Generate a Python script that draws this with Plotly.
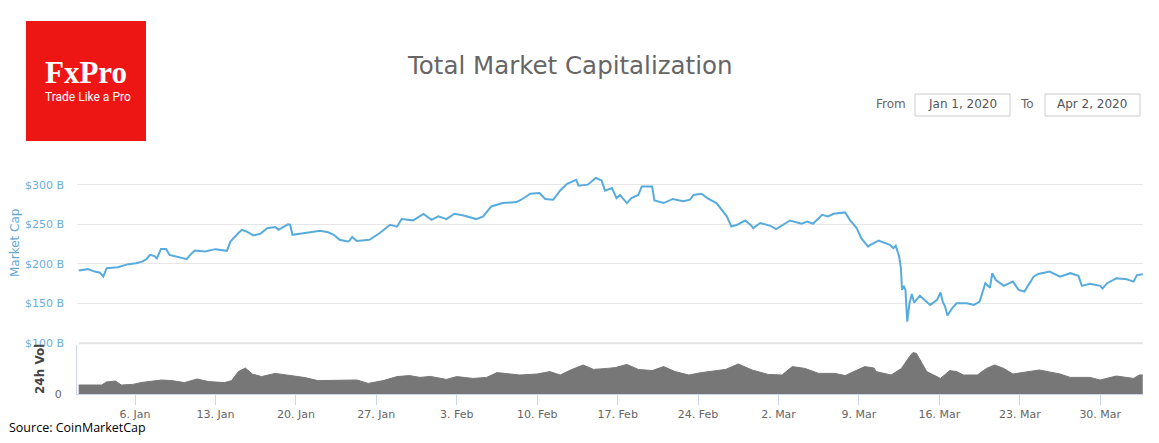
import pandas as pd
import plotly.graph_objects as go

# ---------------- data ----------------
START = "2020-01-01"
mc_days = [0.1, 0.9, 1.5, 1.95, 2.24, 2.53, 3.5, 4.4, 5.1, 5.6, 6.0, 6.3, 6.7, 6.9, 7.26, 7.7, 8.0,
           8.8, 9.5, 9.8, 10.2, 11.1, 12.0, 13.0, 13.3, 14.0, 14.3, 14.7, 15.3, 15.9, 16.5, 17.2,
           17.5, 18.3, 18.5, 18.7, 19.5, 20.1, 21.1, 21.8, 22.3, 22.8, 23.3, 23.6, 23.9, 24.3,
           25.4, 26.3, 27.2, 27.8, 28.2, 29.2, 30.1, 30.8, 31.4, 32.1, 32.8, 33.6, 34.7, 35.3,
           36.0, 37.0, 38.2, 38.6, 39.4, 40.2, 40.7, 41.4, 42.0, 42.6, 43.4, 43.6, 44.4, 45.1,
           45.6, 45.9, 46.5, 46.9, 47.2, 47.8, 48.2, 48.8, 49.1, 50.0, 50.2, 51.0, 51.8, 52.7,
           53.3, 53.6, 54.3, 54.8, 55.6, 56.1, 56.5, 56.9, 57.4, 58.1, 58.6, 58.8, 59.4, 60.3,
           60.8, 62.0, 63.0, 63.5, 64.0, 64.8, 65.3, 65.8, 66.8, 67.2, 67.8, 68.2, 68.8, 69.0,
           69.7, 70.7, 71.0, 71.2, 71.5, 71.65, 71.75, 71.9, 72.05, 72.2, 72.4, 72.6, 72.8, 73.3,
           73.7, 74.2, 74.8, 75.1, 75.3, 75.5, 75.7, 76.1, 76.5, 77.4, 78.0, 78.5, 79.0, 79.4,
           79.6, 79.9, 80.6, 81.4, 81.9, 82.4, 83.2, 83.6, 84.6, 85.5, 86.4, 87.1, 87.4, 88.1,
           89.0, 89.2, 89.6, 90.4, 91.3, 91.9, 92.2, 92.7]
market_cap_b = [191.7, 193.5, 190.4, 189.0, 184.0, 194.7, 196.0, 199.8, 201.0, 203.0, 206.0, 211.5,
                210.0, 207.0, 219.0, 219.0, 211.5, 208.6, 206.0, 211.5, 217.0, 215.7, 218.7, 216.6,
                228.3, 239.0, 243.0, 241.0, 236.0, 238.0, 245.0, 246.5, 243.0, 250.0, 249.5, 236.8,
                239.0, 239.7, 241.8, 240.0, 236.8, 230.5, 229.0, 228.3, 234.0, 229.0, 230.5, 239.0,
                249.4, 247.0, 256.6, 255.0, 263.0, 255.7, 260.0, 256.6, 263.3, 261.0, 256.6, 260.0,
                272.5, 276.8, 278.0, 281.0, 288.6, 289.4, 282.0, 281.0, 292.7, 301.0, 306.0, 298.7,
                300.0, 308.4, 305.4, 292.5, 295.8, 283.0, 287.0, 276.8, 283.0, 287.0, 297.8, 297.8,
                280.0, 276.8, 282.0, 279.0, 281.0, 287.0, 288.6, 283.0, 276.8, 267.5, 260.0, 247.3,
                249.4, 254.8, 249.0, 245.3, 251.6, 248.0, 244.0, 254.8, 250.7, 253.6, 250.7, 262.0,
                260.0, 263.3, 265.0, 255.7, 245.3, 232.6, 222.0, 224.0, 229.6, 224.0, 220.0, 223.0,
                209.4, 194.7, 167.3, 172.4, 167.0, 127.3, 150.5, 162.3, 151.3, 160.0, 154.7, 148.4,
                154.7, 164.0, 152.0, 146.2, 135.0, 144.0, 150.5, 150.5, 148.4, 152.5, 175.8, 170.0,
                188.4, 180.0, 172.4, 177.8, 167.3, 165.2, 184.0, 187.5, 190.4, 184.0, 188.4, 185.0,
                172.4, 175.0, 172.4, 169.0, 175.8, 182.0, 180.8, 177.8, 186.0, 187.0]

vol_days = [0.1, 2.1, 2.5, 3.3, 3.8, 4.8, 5.6, 7.3, 8.2, 9.3, 10.4, 11.4, 12.8, 13.4, 14.0, 14.6,
            15.2, 16.0, 17.2, 18.3, 19.8, 20.9, 22.1, 23.1, 24.3, 25.3, 26.6, 27.8, 28.9, 29.8,
            30.7, 32.1, 33.0, 34.4, 35.6, 36.5, 37.3, 38.5, 40.0, 41.1, 42.0, 42.9, 44.0, 44.9,
            46.1, 46.8, 47.8, 48.8, 50.0, 51.0, 52.0, 53.2, 54.3, 55.5, 56.4, 57.5, 58.7, 60.1,
            61.3, 62.2, 63.3, 64.5, 65.9, 66.8, 68.5, 69.3, 69.5, 70.8, 71.7, 72.4, 72.7, 73.0,
            73.3, 73.9, 75.1, 75.9, 76.5, 77.1, 78.3, 79.1, 79.8, 80.6, 81.4, 82.9, 83.7, 85.5,
            86.4, 88.1, 89.0, 90.4, 91.9, 92.4, 92.7]
volume_b = [45, 45, 60, 65, 45, 48, 58, 70, 67, 57, 75, 62, 57, 67, 112, 130, 100, 87, 103, 95, 82,
            67, 67, 70, 70, 53, 67, 87, 92, 83, 88, 73, 87, 78, 83, 107, 103, 95, 100, 112, 95, 120,
            145, 123, 128, 132, 148, 123, 117, 137, 112, 95, 107, 117, 123, 150, 120, 98, 95, 137,
            128, 103, 103, 92, 137, 130, 112, 95, 128, 187, 207, 203, 170, 112, 78, 117, 112, 95,
            95, 128, 145, 128, 100, 112, 120, 100, 83, 83, 70, 90, 78, 95, 95]

tick_dates = ["2020-01-06", "2020-01-13", "2020-01-20", "2020-01-27", "2020-02-03", "2020-02-10",
              "2020-02-17", "2020-02-24", "2020-03-02", "2020-03-09", "2020-03-16", "2020-03-23",
              "2020-03-30"]
tick_labels = ["6. Jan", "13. Jan", "20. Jan", "27. Jan", "3. Feb", "10. Feb", "17. Feb",
               "24. Feb", "2. Mar", "9. Mar", "16. Mar", "23. Mar", "30. Mar"]
cap_ticks = [100, 150, 200, 250, 300, 350]
cap_tick_labels = ["$100 B", "$150 B", "$200 B", "$250 B", "$300 B", ""]

# ---------------- derived ----------------
t0 = pd.Timestamp(START)
mc_time = t0 + pd.to_timedelta(mc_days, unit="D")
vol_time = t0 + pd.to_timedelta(vol_days, unit="D")
x_start = t0 + pd.to_timedelta(-0.05, unit="D")
x_end = t0 + pd.to_timedelta(92.72, unit="D")

# page has an 8px body margin: figure origin sits at (8, 8) of the window
OFF = 8
W, H = 1159 - 2 * OFF, 443 - 2 * OFF
PLOT_L, PLOT_R, PLOT_T, PLOT_B = 77, 1143, 145, 394   # page coordinates of the plot area
L = PLOT_L - OFF
R = (OFF + W) - PLOT_R
T = PLOT_T - OFF
B = (OFF + H) - PLOT_B
PW, PH = PLOT_R - PLOT_L, PLOT_B - PLOT_T


def px(xp):
    return (xp - PLOT_L) / PW


def py(yp):
    return (PLOT_B - yp) / PH


FONT = "DejaVu Sans"
BLUE = "#58acdd"

fig = go.Figure()
fig.add_trace(go.Scatter(x=vol_time, y=volume_b, mode="lines", line=dict(color="#777777", width=1),
                         fill="tozeroy", fillcolor="#777777", xaxis="x", yaxis="y2",
                         hoverinfo="skip", showlegend=False))
fig.add_trace(go.Scatter(x=mc_time, y=market_cap_b, mode="lines", line=dict(color=BLUE, width=2),
                         xaxis="x", yaxis="y", hoverinfo="skip", showlegend=False))

fig.update_layout(
    width=W, height=H,
    margin=dict(l=L, r=R, t=T, b=B),
    paper_bgcolor="white", plot_bgcolor="white",
    font=dict(family=FONT, size=11, color="#666666"),
    xaxis=dict(anchor="y2", range=[x_start, x_end], tickvals=pd.to_datetime(tick_dates),
               ticktext=tick_labels, showgrid=False, zeroline=False, showline=True,
               linecolor="#ccd6eb", linewidth=1, ticks="outside", ticklen=10, tickcolor="#ccd6eb",
               tickfont=dict(family=FONT, size=11, color="#666666")),
    yaxis=dict(domain=[py(343.3), 1.0], range=[100, 350], tickvals=cap_ticks,
               ticktext=cap_tick_labels, showgrid=True, gridcolor="#e6e6e6", gridwidth=1,
               zeroline=False, showline=False, ticks="", ticklabelstandoff=12,
               tickfont=dict(family=FONT, size=11, color="#6aaedb")),
    yaxis2=dict(domain=[0, py(345)], range=[0, 245], tickvals=[0], ticktext=["0"],
                showgrid=False, zeroline=False, showline=True, linecolor="#ccd6eb", linewidth=1,
                ticks="", ticklabelstandoff=12,
                tickfont=dict(family=FONT, size=11, color="#666666")),
)

shapes = [
    # thicker bottom line of the price pane
    dict(type="line", xref="paper", yref="paper", x0=px(79), x1=1, y0=py(343.3), y1=py(343.3),
         line=dict(color="#e3e3e3", width=2)),
    # logo box
    dict(type="rect", xref="paper", yref="paper", x0=px(26), x1=px(146), y0=py(141), y1=py(21),
         fillcolor="#ee1515", line=dict(width=0), layer="above"),
    # date input boxes
    dict(type="rect", xref="paper", yref="paper", x0=px(915), x1=px(1010), y0=py(116), y1=py(94),
         fillcolor="white", line=dict(color="#cccccc", width=1)),
    dict(type="rect", xref="paper", yref="paper", x0=px(1045), x1=px(1140), y0=py(116), y1=py(94),
         fillcolor="white", line=dict(color="#cccccc", width=1)),
]
fig.update_layout(shapes=shapes)

ann = [
    dict(text="Total Market Capitalization", x=px(570), y=py(65), font=dict(size=24.5, color="#666666"),
         xanchor="center", yanchor="middle"),
    dict(text="<b>FxPro</b>", x=px(43), y=py(73), font=dict(family="Liberation Serif", size=31, color="white"),
         xanchor="left", yanchor="middle"),
    dict(text="Trade Like a Pro", x=px(43), y=py(97), font=dict(family="Roboto", size=12, color="white"),
         xanchor="left", yanchor="middle"),
    dict(text="From", x=px(908), y=py(104), font=dict(size=12, color="#666666"), xanchor="right",
         yanchor="middle"),
    dict(text="Jan 1, 2020", x=px(962), y=py(104), font=dict(size=12, color="#555555"),
         xanchor="center", yanchor="middle"),
    dict(text="To", x=px(1036), y=py(104), font=dict(size=12, color="#666666"), xanchor="right",
         yanchor="middle"),
    dict(text="Apr 2, 2020", x=px(1092), y=py(104), font=dict(size=12, color="#555555"),
         xanchor="center", yanchor="middle"),
    dict(text="Market Cap", x=px(15), y=py(243), textangle=-90, font=dict(size=12, color="#5fa8d8"),
         xanchor="center", yanchor="middle"),
    dict(text="<b>24h Vol</b>", x=px(40), y=py(369), textangle=-90, font=dict(size=12, color="#444444"),
         xanchor="center", yanchor="middle"),
    dict(text="Source: CoinMarketCap", x=px(8), y=py(427.5), borderpad=0,
         font=dict(family="Open Sans", size=12.5, color="#000000"), xanchor="left", yanchor="middle"),
]
for a in ann:
    a.update(xref="paper", yref="paper", showarrow=False)
fig.update_layout(annotations=ann)

fig.write_html("out.html")
